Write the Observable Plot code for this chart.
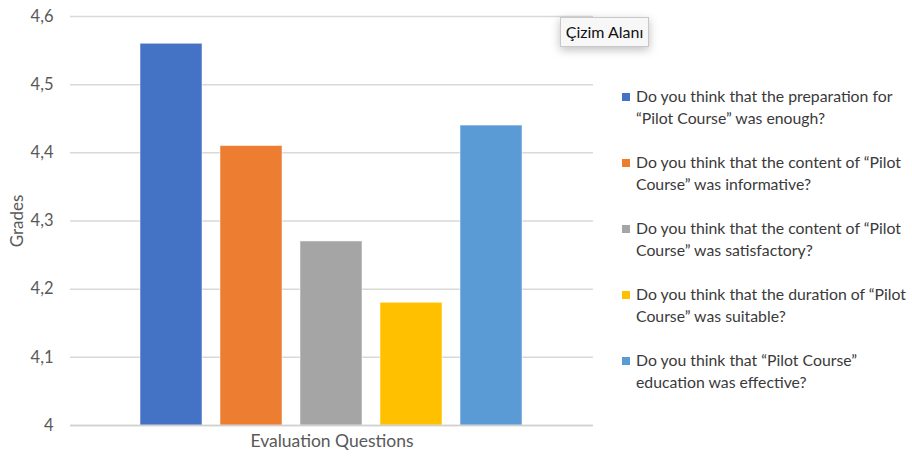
<!DOCTYPE html>
<html>
<head>
<meta charset="utf-8">
<script src="https://cdn.jsdelivr.net/npm/d3@7"></script>
<script src="https://cdn.jsdelivr.net/npm/@observablehq/plot@0.6"></script>
<style>
  html, body { margin: 0; padding: 0; background: #fff; }
  body { width: 912px; height: 462px; position: relative; overflow: hidden; font-family: Lato, "Open Sans", sans-serif; }
  #chart { position: absolute; left: 0; top: 0; }
  #legend { position: absolute; left: 622px; top: 85px; width: 290px; }
  .item { display: flex; align-items: flex-start; height: 66px; }
  .sw { width: 8px; height: 8px; margin-top: 8px; margin-right: 6px; flex: none; }
  .lab { font-size: 15.8px; line-height: 22px; color: #3a3a3a; white-space: nowrap; }
  #tip { position: absolute; left: 560px; top: 17px; width: 87px; height: 28px; border: 1px solid #c8c8c8; background: #f7f7f7;
         box-shadow: 0 3px 10px rgba(0,0,0,0.25); font-size: 16px; line-height: 28px; text-align: center; color: #111; }
  svg text { font-family: Lato, "Open Sans", sans-serif; }
</style>
</head>
<body>
<div id="chart"></div>
<div id="tip">Çizim Alanı</div>
<div id="legend"></div>
<script>
const questions = [
  "Do you think that the preparation for \u201cPilot Course\u201d was enough?",
  "Do you think that the content of \u201cPilot Course\u201d was informative?",
  "Do you think that the content of \u201cPilot Course\u201d was satisfactory?",
  "Do you think that the duration of \u201cPilot Course\u201d was suitable?",
  "Do you think that \u201cPilot Course\u201d education was effective?"
];
const legendLines = [
  ["Do you think that the preparation for", "\u201cPilot Course\u201d was enough?"],
  ["Do you think that the content of \u201cPilot", "Course\u201d was informative?"],
  ["Do you think that the content of \u201cPilot", "Course\u201d was satisfactory?"],
  ["Do you think that the duration of \u201cPilot", "Course\u201d was suitable?"],
  ["Do you think that \u201cPilot Course\u201d", "education was effective?"]
];
const grades = [4.56, 4.41, 4.27, 4.18, 4.44];
const colors = ["#4472C4", "#ED7D31", "#A5A5A5", "#FFC000", "#5B9BD5"];
const yTicks = [4, 4.1, 4.2, 4.3, 4.4, 4.5, 4.6];
const yMin = 4, yMax = 4.6;

const data = questions.map((q, i) => ({q, v: grades[i]}));

const chart = Plot.plot({
  width: 600,
  height: 462,
  marginLeft: 70,
  marginRight: 7,
  marginTop: 16,
  marginBottom: 37,
  style: {fontFamily: "Lato, sans-serif", fontSize: "16.5px", color: "#595959", background: "white"},
  x: {domain: questions, paddingInner: 0.22, paddingOuter: 0.86, axis: null},
  y: {domain: [yMin, yMax]},
  color: {domain: questions, range: colors},
  marks: [
    Plot.gridY(yTicks, {stroke: "#d9d9d9", strokeOpacity: 1, strokeWidth: 1.5}),
    Plot.axisY(yTicks, {tickSize: 0, tickPadding: 17, fontSize: 16.5, tickFormat: d => String(d).replace(".", ","),
      label: null, fill: "#595959"}),
    Plot.text(["Grades"], {frameAnchor: "left", dx: -53, rotate: -90, textAnchor: "middle", fontSize: 17, fontFamily: "Lato, sans-serif", fill: "#595959"}),
    Plot.barY(data, {x: "q", y1: () => yMin, y2: "v", fill: "q", stroke: "white", strokeOpacity: 0.5, strokeWidth: 1}),
    Plot.ruleY([yMin], {stroke: "#d0d0d0", strokeWidth: 1.5}),
    Plot.text(["Evaluation Questions"], {frameAnchor: "bottom", dy: 21, fontSize: 17.5, fill: "#595959"})
  ]
});
document.getElementById("chart").appendChild(chart);

const leg = document.getElementById("legend");
legendLines.forEach((lines, i) => {
  const it = document.createElement("div");
  it.className = "item";
  const sw = document.createElement("div");
  sw.className = "sw";
  sw.style.background = colors[i];
  const lab = document.createElement("div");
  lab.className = "lab";
  lab.innerHTML = lines.join("<br>");
  it.appendChild(sw); it.appendChild(lab);
  leg.appendChild(it);
});
</script>
</body>
</html>
